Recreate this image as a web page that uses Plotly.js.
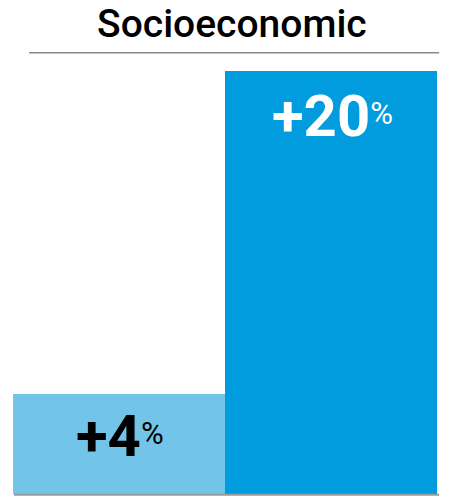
<!DOCTYPE html>
<html>
<head>
<meta charset="utf-8">
<script src="https://cdn.plot.ly/plotly-3.0.1.min.js"></script>
<style>
  html, body { margin: 0; padding: 0; background: #fff; }
  #chart { width: 452px; height: 503px; }
</style>
</head>
<body>
<div id="chart"></div>
<script>
// Socioeconomic change, two bars
var categories = ['Before', 'After'];
var values = [4, 20];
var value_labels = ['+4', '+20'];
var bar_colors = ['#72C5E9', '#009CDE'];
var label_colors = ['#000000', '#ffffff'];

// bars start a bit below zero so the heights match the picture
var bar_base = -0.95;

// the % sign: raised a little and smaller than the number
var pct_text = '<span style="font-size:29px"><sup><span style="font-size:31px;font-weight:400">%</span></sup></span>';

var data = [
    {
        x: categories,
        y: values.map(function(v){ return v - bar_base; }),
        base: bar_base,
        type: 'bar',
        marker: { color: bar_colors, line: { width: 0 } },
        hoverinfo: 'none'
    }
];

// labels: small bar centred, tall bar near its top
var annotations = [];
for (var i = 0; i < categories.length; i++) {
    var small = values[i] < 10;
    annotations.push({
        x: categories[i],
        y: small ? (bar_base + values[i]) / 2 : values[i],
        xref: 'x',
        yref: 'y',
        yanchor: small ? 'middle' : 'top',
        yshift: small ? 8 : -9,
        xshift: 1,
        text: value_labels[i] + pct_text,
        showarrow: false,
        font: { family: 'Roboto', size: 58, color: label_colors[i], weight: 700 }
    });
}

var layout = {
    width: 452,
    height: 503,
    margin: { l: 13, r: 15, t: 71, b: 9 },
    paper_bgcolor: '#ffffff',
    plot_bgcolor: '#ffffff',
    showlegend: false,
    bargap: 0,
    title: {
        text: 'Socioeconomic',
        x: 0.513,
        xanchor: 'center',
        y: 0.953,
        yanchor: 'middle',
        font: { family: 'Roboto', size: 39, color: '#000000', weight: 500 }
    },
    xaxis: {
        showticklabels: false,
        showgrid: false,
        zeroline: false,
        showline: false,
        ticks: ''
    },
    yaxis: {
        range: [bar_base, 20],
        showticklabels: false,
        showgrid: false,
        zeroline: false,
        showline: false,
        ticks: ''
    },
    shapes: [
        // rule under the title
        { type: 'line', xref: 'paper', yref: 'paper', x0: 0.038, x1: 1.005, y0: 1.043, y1: 1.043,
          line: { color: '#8a8a8a', width: 1.5 } },
        // baseline
        { type: 'line', xref: 'paper', yref: 'paper', x0: 0.002, x1: 1.005, y0: -0.002, y1: -0.002,
          line: { color: '#9a9a9a', width: 2 } }
    ],
    annotations: annotations
};

var config = { staticPlot: true, displayModeBar: false };

Plotly.newPlot('chart', data, layout, config);
</script>
</body>
</html>
